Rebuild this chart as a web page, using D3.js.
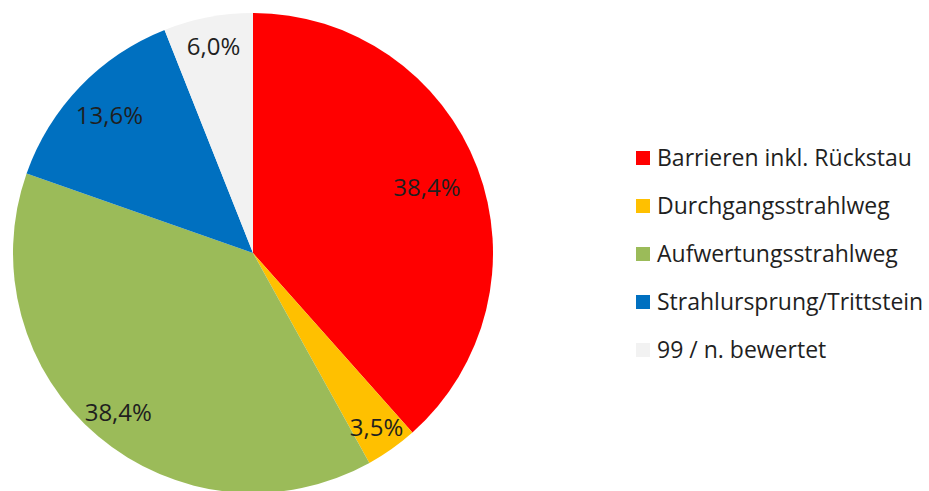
<!DOCTYPE html>
<html>
<head>
<meta charset="utf-8">
<script src="https://cdn.jsdelivr.net/npm/d3@7"></script>
<style>
  body { margin: 0; background: #fff; }
  text { font-family: "Open Sans", "Liberation Sans", sans-serif; fill: #1f1f1f; }
</style>
</head>
<body>
<div id="chart"></div>
<script>
// Data
const categories = ["Barrieren inkl. Rückstau", "Durchgangsstrahlweg", "Aufwertungsstrahlweg", "Strahlursprung/Trittstein", "99 / n. bewertet"];
const shares = [38.4, 3.5, 38.4, 13.6, 6.0];
const colors = ["#ff0000", "#ffc000", "#9bbb59", "#0070c0", "#f2f2f2"];

const width = 929;
const height = 491;
const radius = 240;
const cx = 253, cy = 253;

const svg = d3.select("#chart")
    .append("svg")
    .attr("width", width)
    .attr("height", height);

const pie = d3.pie().sort(null).value(d => d);
const arcs = pie(shares);
const arc = d3.arc().innerRadius(0).outerRadius(radius);

const g = svg.append("g").attr("transform", `translate(${cx},${cy})`);

g.selectAll("path")
    .data(arcs)
    .enter()
    .append("path")
    .attr("d", arc)
    .attr("fill", (d, i) => colors[i]);

// label distance from centre, as share of radius (Excel "best fit" look)
const labelR = [0.775, 0.89, 0.87, 0.83, 0.875];
const fmt = v => v.toFixed(1).replace(".", ",") + "%";

g.selectAll(".lbl")
    .data(arcs)
    .enter()
    .append("text")
    .attr("class", "lbl")
    .attr("transform", (d, i) => {
        const a = (d.startAngle + d.endAngle) / 2;
        const r = radius * labelR[i];
        return `translate(${Math.sin(a) * r},${-Math.cos(a) * r})`;
    })
    .attr("text-anchor", "middle")
    .attr("dy", "0.36em")
    .style("font-size", "24px")
    .text(d => fmt(d.data));

// Legend
const legend = svg.append("g").attr("transform", "translate(636,158)");
const row = legend.selectAll("g")
    .data(categories)
    .enter()
    .append("g")
    .attr("transform", (d, i) => `translate(0,${i * 48})`);

row.append("rect")
    .attr("x", 0)
    .attr("y", -7)
    .attr("width", 14)
    .attr("height", 14)
    .attr("fill", (d, i) => colors[i]);

row.append("text")
    .attr("x", 21)
    .attr("dy", "0.36em")
    .style("font-size", "23px")
    .text(d => d);
</script>
</body>
</html>
